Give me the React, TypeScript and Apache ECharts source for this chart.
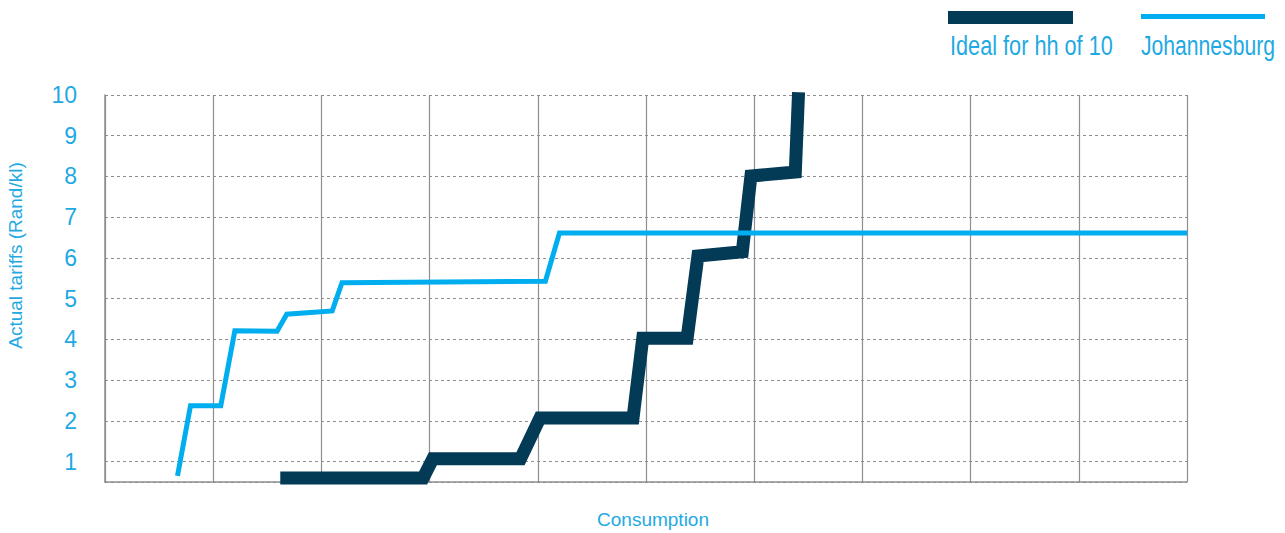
import React, { useEffect, useRef } from "react";
import * as echarts from "echarts";

const xTicks = [0, 10, 20, 30, 40, 50, 60, 70, 80, 90, 100];
const yTickLabels = ["1", "2", "3", "4", "5", "6", "7", "8", "9", "10"];

const seriesNames = ["Ideal for hh of 10", "Johannesburg"];

const idealX = [16.2, 29.4, 30.3, 38.4, 40.2, 48.8, 49.7, 53.8, 54.8, 58.9, 59.7, 63.8, 64.1];
const idealY = [0.6, 0.6, 1.07, 1.07, 2.07, 2.07, 4.03, 4.03, 6.05, 6.15, 8.01, 8.11, 10.07];

const jhbX = [6.7, 7.9, 10.7, 12.0, 15.9, 16.8, 21.0, 21.9, 40.7, 42.0, 100];
const jhbY = [0.65, 2.37, 2.37, 4.21, 4.2, 4.62, 4.7, 5.39, 5.43, 6.61, 6.61];

const DARK = "#033a56";
const CYAN = "#00aeef";
const TEXT = "#1fa9e3";
const GRAY = "#8e8e8e";
const FONT = "'Liberation Sans', Arial, sans-serif";

export default function App() {
  const ref = useRef<HTMLDivElement>(null);

  useEffect(() => {
    if (!ref.current) return;
    const chart = echarts.init(ref.current, undefined, { renderer: "svg" });
    const idealData = idealX.map((x, i) => [x, idealY[i]]);
    const jhbData = jhbX.map((x, i) => [x, jhbY[i]]);

    chart.setOption({
      animation: false,
      textStyle: { fontFamily: FONT },
      grid: {
        left: 105,
        right: 98,
        top: 95,
        bottom: 51,
        outerBoundsMode: "none",
      },
      xAxis: {
        type: "value",
        min: xTicks[0],
        max: xTicks[xTicks.length - 1],
        interval: 10,
        name: "Consumption",
        nameLocation: "middle",
        nameGap: 28,
        nameTextStyle: {
          color: TEXT,
          fontSize: 19,
          fontFamily: FONT,
          verticalAlign: "top",
          padding: [0, 0, 0, 14],
        },
        axisLine: { show: true, lineStyle: { color: GRAY, width: 1.5 } },
        axisTick: { show: false },
        axisLabel: { show: false },
        splitLine: { show: true, lineStyle: { color: GRAY, width: 1.2, type: "solid" } },
      },
      yAxis: {
        type: "value",
        min: 0.5,
        max: 10,
        splitNumber: 10,
        name: "Actual tariffs (Rand/kl)",
        nameLocation: "middle",
        nameGap: 80,
        nameRotate: 90,
        nameTextStyle: {
          color: TEXT,
          fontSize: 19,
          fontFamily: FONT,
          padding: [0, 0, 0, 66],
        },
        axisLine: { show: true, lineStyle: { color: GRAY, width: 1.5 } },
        axisTick: { show: false },
        axisLabel: {
          color: TEXT,
          fontSize: 23,
          fontFamily: FONT,
          margin: 28,
          formatter: (v: number) => {
            const s = String(Math.round(v));
            return Math.abs(v - Math.round(v)) < 1e-6 && yTickLabels.includes(s) ? s : "";
          },
        },
        splitLine: {
          show: true,
          lineStyle: { color: GRAY, width: 1.2, type: [3, 3] },
        },
      },
      series: [
        {
          name: seriesNames[0],
          type: "line",
          data: idealData,
          showSymbol: false,
          symbol: "none",
          clip: false,
          lineStyle: { color: DARK, width: 13, cap: "butt", join: "miter" },
          z: 3,
        },
        {
          name: seriesNames[1],
          type: "line",
          data: jhbData,
          showSymbol: false,
          symbol: "none",
          clip: false,
          lineStyle: { color: CYAN, width: 5, cap: "butt", join: "miter" },
          z: 4,
        },
      ],
      graphic: [
        { type: "rect", left: 948, top: 11, shape: { width: 125, height: 13 }, style: { fill: DARK } },
        { type: "rect", left: 1141, top: 14, shape: { width: 124, height: 5 }, style: { fill: CYAN } },
        {
          type: "text",
          x: 950,
          y: 31,
          scaleX: 0.775,
          style: { text: seriesNames[0], fill: TEXT, fontSize: 28, fontFamily: FONT, align: "left", verticalAlign: "top" },
        },
        {
          type: "text",
          x: 1141,
          y: 31,
          scaleX: 0.755,
          style: { text: seriesNames[1], fill: TEXT, fontSize: 28, fontFamily: FONT, align: "left", verticalAlign: "top" },
        },
      ],
    });

    return () => chart.dispose();
  }, []);

  return (
    <div
      ref={ref}
      style={{ position: "fixed", left: 0, top: 0, width: 1285, height: 533, background: "#fff" }}
    />
  );
}
